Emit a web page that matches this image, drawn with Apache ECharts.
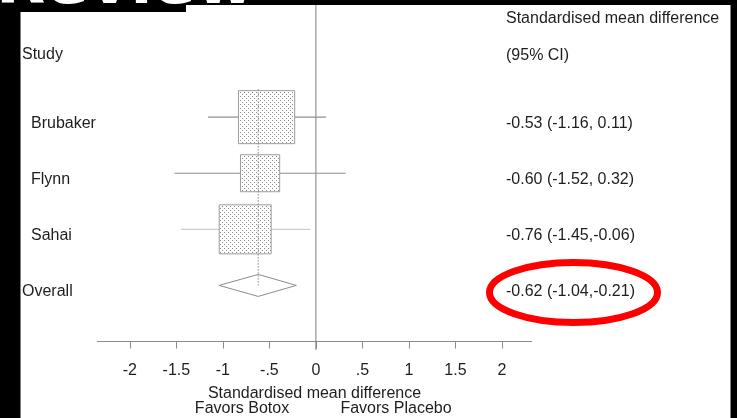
<!DOCTYPE html>
<html>
<head>
<meta charset="utf-8">
<title>Standardised mean difference – forest plot</title>
<script src="https://cdn.jsdelivr.net/npm/echarts@6/dist/echarts.min.js"></script>
<style>
  html, body { margin: 0; padding: 0; background: #000; }
  #chart { width: 737px; height: 418px; }
</style>
</head>
<body>
<div id="chart"></div>
<script>
// ---- data -------------------------------------------------------------
const studies   = ['Brubaker', 'Flynn', 'Sahai'];
const estimates = [-0.53, -0.60, -0.76];
const lowerCI   = [-1.16, -1.52, -1.45];
const upperCI   = [0.11, 0.32, -0.06];
const weights   = [42.7, 20.8, 36.5];          // % weight, sets box area

const overallName = 'Overall';
const overallEst  = -0.62;
const overallLow  = -1.04;
const overallHigh = -0.21;

const tickValues = [-2, -1.5, -1, -0.5, 0, 0.5, 1, 1.5, 2];
const tickLabels = ['-2', '-1.5', '-1', '-.5', '0', '.5', '1', '1.5', '2'];

// ---- styling ----------------------------------------------------------
const FONT = '"Liberation Sans", Arial, Helvetica, sans-serif';
const TEXT = '#1e1e1e';
const GREY = '#8c8c8c';
const ciStroke = ['#8f8f8f', '#8f8f8f', '#cdcdcd'];
const overallRow = studies.length + 1;

// stippled fill for the study boxes
const stipple = document.createElement('canvas');
stipple.width = 4; stipple.height = 4;
(function () {
  const g = stipple.getContext('2d');
  g.fillStyle = '#ffffff'; g.fillRect(0, 0, 4, 4);
  g.fillStyle = '#8a8a8a';
  g.fillRect(0, 0, 1, 1);
  g.fillRect(2, 2, 1, 1);
})();

function fmt(v) { return v.toFixed(2); }
function ciText(est, lo, hi) {
  return fmt(est) + ' (' + fmt(lo) + (hi < 0 ? ',' : ', ') + fmt(hi) + ')';
}

const rows = studies.map((s, i) => ({
  name: s, est: estimates[i], lo: lowerCI[i], hi: upperCI[i], w: weights[i], row: i + 1
}));

const chart = echarts.init(document.getElementById('chart'), null, { renderer: 'canvas' });

const option = {
  backgroundColor: '#000',
  animation: false,
  textStyle: { fontFamily: FONT },
  grid: { left: 97.3, right: 205.3, top: 5, bottom: 76.5, containLabel: false },
  xAxis: {
    type: 'value',
    min: -2.35,
    max: 2.32,
    splitLine: { show: false },
    axisLine: { show: true, onZero: false, lineStyle: { color: GREY, width: 1 } },
    axisTick: { show: true, length: 7, customValues: tickValues, lineStyle: { color: GREY } },
    axisLabel: {
      customValues: tickValues,
      margin: 21,
      fontSize: 16,
      color: TEXT,
      fontFamily: FONT,
      formatter: v => {
        const k = tickValues.findIndex(t => Math.abs(t - v) < 1e-9);
        return k >= 0 ? tickLabels[k] : '';
      }
    },
    name: 'Standardised mean difference',
    nameLocation: 'middle',
    nameGap: 44,
    nameTextStyle: { fontSize: 16, color: TEXT, fontFamily: FONT }
  },
  yAxis: {
    type: 'value', inverse: true, min: -1, max: 5, show: false
  },
  graphic: [
    // white plot page
    { type: 'rect', z: -10, shape: { x: 20.5, y: 5, width: 710, height: 413 }, style: { fill: '#fff' } },
    { type: 'rect', z: -9, shape: { x: 0, y: 0, width: 186, height: 12 }, style: { fill: '#000' } },
    { type: 'text', z: -8, x: -4, y: -14,
      style: { text: 'Review', fill: '#fff', font: 'bold 64px "DejaVu Sans", sans-serif', verticalAlign: 'middle' } },
    // direction captions under the axis title
    { type: 'text', x: 242, y: 409,
      style: { text: 'Favors Botox', fill: TEXT, font: '16px ' + FONT, align: 'center', verticalAlign: 'middle' } },
    { type: 'text', x: 396, y: 409,
      style: { text: 'Favors Placebo', fill: TEXT, font: '16px ' + FONT, align: 'center', verticalAlign: 'middle' } },
    // column headers
    { type: 'text', x: 22, y: 55,
      style: { text: 'Study', fill: TEXT, font: '16px ' + FONT, verticalAlign: 'middle' } },
    { type: 'text', x: 506, y: 19,
      style: { text: 'Standardised mean difference', fill: TEXT, font: '16px ' + FONT, verticalAlign: 'middle' } },
    { type: 'text', x: 506, y: 56,
      style: { text: '(95% CI)', fill: TEXT, font: '16px ' + FONT, verticalAlign: 'middle' } },
    // highlight around the pooled result
    { type: 'ellipse', z: 100, shape: { cx: 573.5, cy: 292.5, rx: 84, ry: 30 },
      style: { fill: 'none', stroke: '#ff0000', lineWidth: 7 } }
  ],
  series: [
    // line of no effect
    {
      type: 'custom', name: 'zero', z: 1,
      data: [[0, -1, 5.15]],
      renderItem: (params, api) => {
        const a = api.coord([api.value(0), api.value(1)]);
        const b = api.coord([api.value(0), api.value(2)]);
        return { type: 'line', shape: { x1: a[0], y1: a[1], x2: b[0], y2: b[1] },
                 style: { stroke: '#7d7d7d', lineWidth: 1 } };
      }
    },
    // confidence intervals
    {
      type: 'custom', name: 'ci', z: 2,
      data: rows.map(r => [r.lo, r.hi, r.row]),
      renderItem: (params, api) => {
        const a = api.coord([api.value(0), api.value(2)]);
        const b = api.coord([api.value(1), api.value(2)]);
        return { type: 'line', shape: { x1: a[0], y1: a[1], x2: b[0], y2: b[1] },
                 style: { stroke: ciStroke[params.dataIndex], lineWidth: 1.2 } };
      }
    },
    // weighted point-estimate boxes
    {
      type: 'custom', name: 'boxes', z: 3,
      data: rows.map(r => [r.est, r.row, r.w]),
      renderItem: (params, api) => {
        const c = api.coord([api.value(0), api.value(1)]);
        const h = 8.11 * Math.sqrt(api.value(2));
        const w = h * 1.06;
        return { type: 'rect', shape: { x: c[0] - w / 2, y: c[1] - h / 2, width: w, height: h },
                 style: { fill: { image: stipple, repeat: 'repeat' }, stroke: '#9d9d9d', lineWidth: 1 } };
      }
    },
    // pooled estimate diamond
    {
      type: 'custom', name: 'overall', z: 3,
      data: [[overallLow, overallEst, overallHigh, overallRow]],
      renderItem: (params, api) => {
        const row = api.value(3);
        const l = api.coord([api.value(0), row]);
        const m = api.coord([api.value(1), row]);
        const r = api.coord([api.value(2), row]);
        const hh = 11;
        return { type: 'polygon',
                 shape: { points: [[l[0], l[1]], [m[0], m[1] - hh], [r[0], r[1]], [m[0], m[1] + hh]] },
                 style: { fill: '#fff', stroke: '#8c8c8c', lineWidth: 1 } };
      }
    },
    // dotted line at the pooled estimate
    {
      type: 'custom', name: 'pooledLine', z: 4,
      data: [[overallEst, 0.5, overallRow]],
      renderItem: (params, api) => {
        const a = api.coord([api.value(0), api.value(1)]);
        const b = api.coord([api.value(0), api.value(2)]);
        return { type: 'line', shape: { x1: a[0], y1: a[1], x2: b[0], y2: b[1] },
                 style: { stroke: '#8a8a8a', lineWidth: 1, lineDash: [1.5, 1.5] } };
      }
    },
    // study names and effect sizes
    {
      type: 'custom', name: 'labels', z: 5,
      data: rows.map(r => [r.row, 0]).concat([[overallRow, 1]]),
      renderItem: (params, api) => {
        const i = params.dataIndex;
        const y = api.coord([0, api.value(0)])[1] + 6.5;
        const isOverall = api.value(1) === 1;
        const name = isOverall ? overallName : rows[i].name;
        const stat = isOverall ? ciText(overallEst, overallLow, overallHigh)
                               : ciText(rows[i].est, rows[i].lo, rows[i].hi);
        return { type: 'group', children: [
          { type: 'text', x: isOverall ? 22 : 31, y: y,
            style: { text: name, fill: TEXT, font: '16px ' + FONT, verticalAlign: 'middle' } },
          { type: 'text', x: 506, y: y,
            style: { text: stat, fill: TEXT, font: '16px ' + FONT, verticalAlign: 'middle' } }
        ] };
      }
    }
  ]
};

chart.setOption(option);
</script>
</body>
</html>
